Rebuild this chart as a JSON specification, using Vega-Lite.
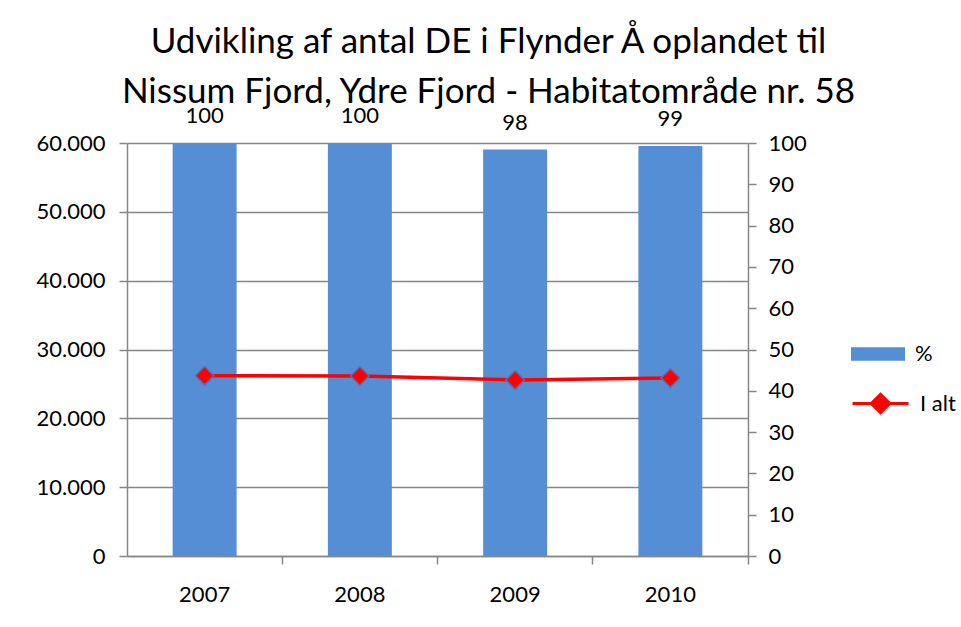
{
  "$schema": "https://vega.github.io/schema/vega-lite/v6.json",
  "width": 621,
  "height": 413,
  "autosize": {"type": "none"},
  "padding": {"left": 127, "top": 143, "right": 213, "bottom": 71},
  "background": "white",
  "title": {
    "text": ["Udvikling af antal DE i Flynder Å oplandet  til", "Nissum Fjord, Ydre Fjord - Habitatområde nr. 58"],
    "font": "Lato",
    "fontSize": 35,
    "fontWeight": "normal",
    "color": "black",
    "lineHeight": 50,
    "anchor": "middle",
    "baseline": "alphabetic",
    "dx": 51,
    "dy": 43,
    "offset": 10
  },
  "config": {
    "font": "Lato",
    "view": {"stroke": null},
    "axis": {
      "labelFont": "Lato",
      "labelFontSize": 22,
      "labelColor": "black",
      "domainColor": "#868686",
      "domainWidth": 1.5,
      "tickColor": "#868686",
      "tickWidth": 1.5,
      "tickSize": 8,
      "gridColor": "#868686",
      "gridWidth": 1.5,
      "title": null
    },
    "legend": {
      "labelFont": "Lato",
      "labelFontSize": 22,
      "labelColor": "black",
      "title": null,
      "padding": 0,
      "labelOffset": 10
    }
  },
  "data": {
    "values": [
      {"year": "2007", "pct": 100, "label": "100", "total": 26200},
      {"year": "2008", "pct": 100, "label": "100", "total": 26150},
      {"year": "2009", "pct": 98.4, "label": "98", "total": 25570},
      {"year": "2010", "pct": 99.3, "label": "99", "total": 25860}
    ]
  },
  "encoding": {
    "x": {
      "field": "year",
      "type": "ordinal",
      "scale": {"paddingInner": 0.588, "paddingOuter": 0.294},
      "axis": {"labelAngle": 0, "bandPosition": 1.714, "labelPadding": 20, "grid": false, "domainColor": "#868686"}
    }
  },
  "layer": [
    {
      "encoding": {
        "y": {
          "field": "pct",
          "type": "quantitative",
          "scale": {"domain": [0, 100], "nice": false},
          "axis": {"orient": "right", "values": [0,10,20,30,40,50,60,70,80,90,100], "grid": false, "labelPadding": 12}
        }
      },
      "layer": [
        {
          "mark": {"type": "bar", "color": "#558ED5"},
          "encoding": {
            "fill": {
              "datum": "%",
              "scale": {"range": ["#558ED5"]},
              "legend": {
                "orient": "none",
                "legendX": 724,
                "legendY": 184,
                "symbolType": "M-1,-0.25H1V0.25H-1Z",
                "symbolSize": 2916,
                "symbolStrokeWidth": 0
              }
            }
          }
        },
        {
          "mark": {"type": "text", "font": "Lato", "fontSize": 22, "color": "black", "baseline": "alphabetic", "dy": -20},
          "encoding": {"text": {"field": "label"}}
        }
      ]
    },
    {
      "encoding": {
        "y": {
          "field": "total",
          "type": "quantitative",
          "scale": {"domain": [0, 60000], "nice": false},
          "axis": {
            "orient": "left",
            "values": [0,10000,20000,30000,40000,50000,60000],
            "grid": true,
            "labelPadding": 14,
            "labelExpr": "replace(format(datum.value, ','), ',', '.')"
          }
        }
      },
      "layer": [
        {
          "mark": {"type": "line", "strokeWidth": 3.5},
          "encoding": {
            "stroke": {
              "datum": "I alt",
              "scale": {"range": ["#FF0000"]},
              "legend": {
                "orient": "none",
                "legendX": 724,
                "legendY": 231,
                "symbolType": "M-1,0H1M-0.33,0L0,-0.33L0.33,0L0,0.33Z",
                "symbolSize": 3136,
                "symbolStrokeWidth": 3,
                "encode": {"symbols": {"update": {"fill": {"value": "#FF0000"}}}}
              }
            }
          }
        },
        {
          "mark": {"type": "point", "shape": "diamond", "filled": true, "fill": "#FF0000", "stroke": "#5A6FA8", "strokeWidth": 1.5, "size": 340, "opacity": 1}
        }
      ]
    }
  ],
  "resolve": {"scale": {"y": "independent"}}
}
